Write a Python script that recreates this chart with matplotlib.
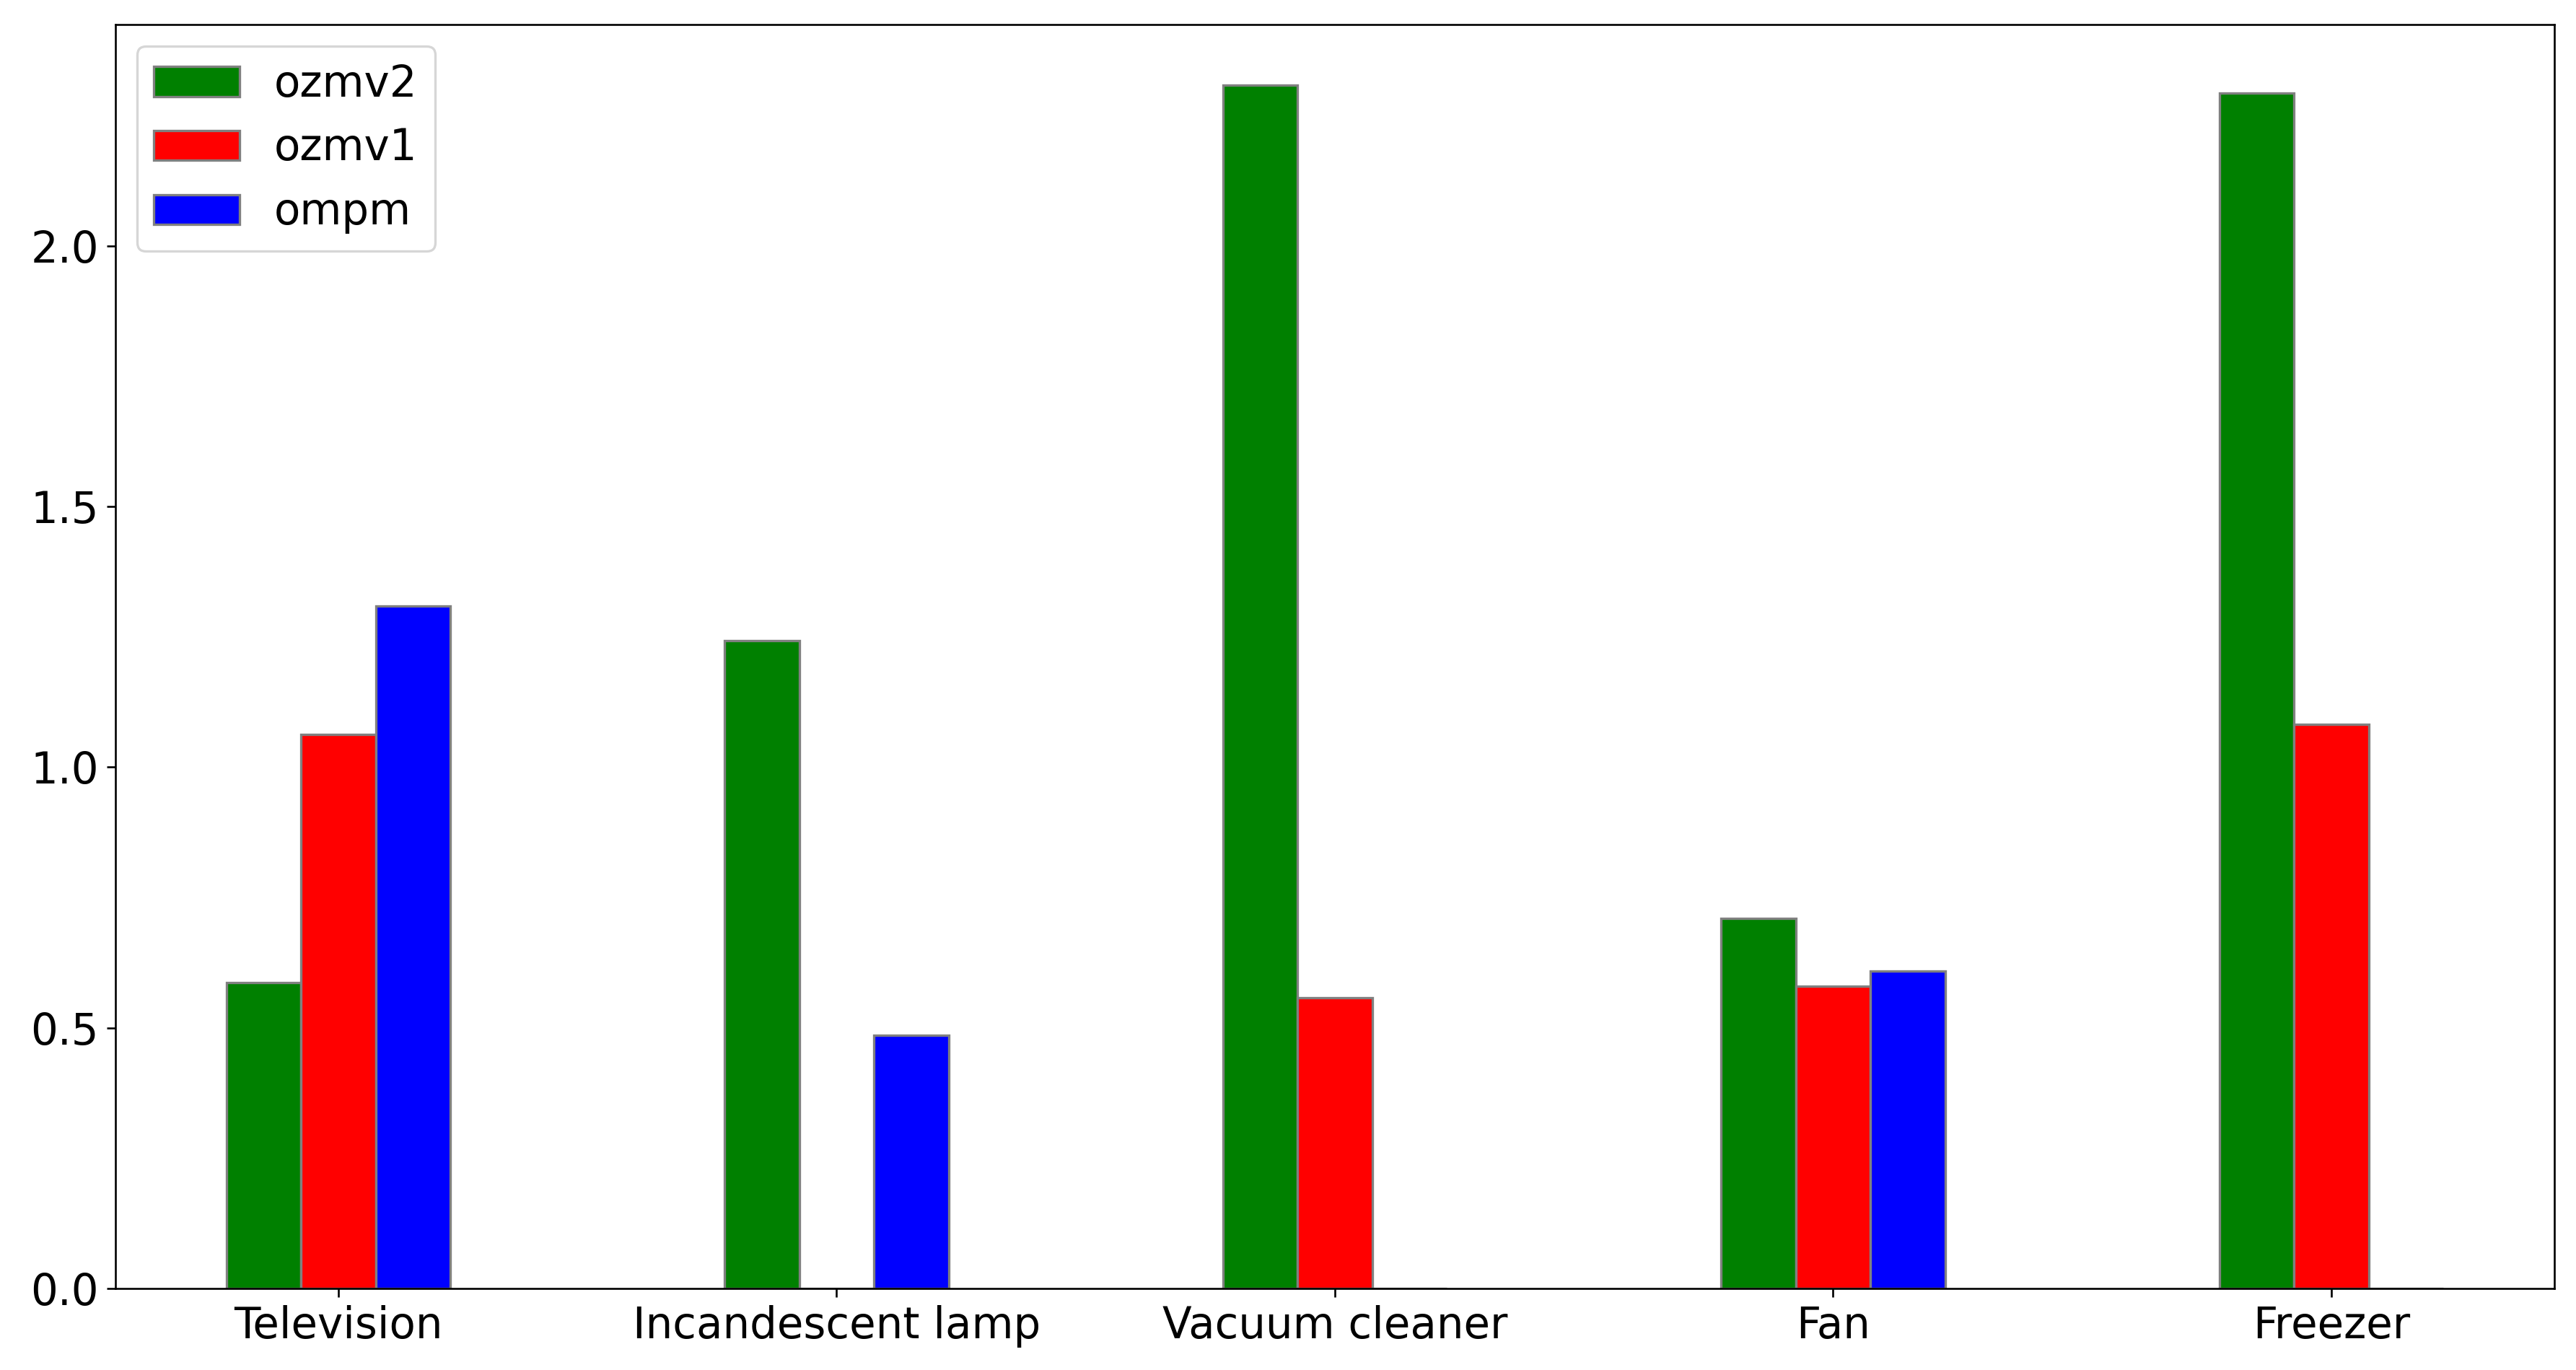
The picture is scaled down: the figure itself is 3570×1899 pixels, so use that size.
import matplotlib
matplotlib.use('Agg')
import matplotlib.pyplot as plt
import numpy as np

appliances = ['Television', 'Incandescent lamp', 'Vacuum cleaner', 'Fan', 'Freezer']
ozmv2 = [0.587, 1.243, 2.309, 0.710, 2.293]
ozmv1 = [1.063, 0.0, 0.558, 0.580, 1.082]
ompm = [1.309, 0.486, 0.0, 0.609, 0.0]

bar_width = 0.15
r1 = np.arange(len(appliances))
r2 = r1 + bar_width
r3 = r2 + bar_width

plt.rcParams['font.size'] = 18
fig = plt.figure(figsize=(15, 1899 / 238))
plt.subplots_adjust(left=0.0448, right=0.9916, top=0.982, bottom=0.0595)

plt.bar(r1, ozmv2, color='green', width=bar_width, edgecolor='grey', label='ozmv2')
plt.bar(r2, ozmv1, color='red', width=bar_width, edgecolor='grey', label='ozmv1')
plt.bar(r3, ompm, color='blue', width=bar_width, edgecolor='grey', label='ompm')

plt.xticks(r1 + bar_width, appliances)
plt.legend(loc='upper left')
plt.savefig('out.png', dpi=238)
